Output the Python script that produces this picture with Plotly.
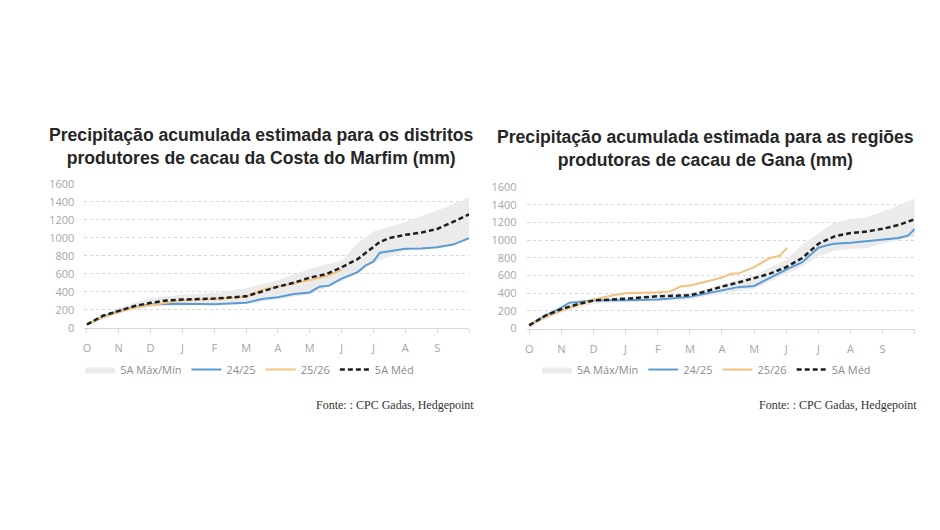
import plotly.graph_objects as go

months = ["O", "N", "D", "J", "F", "M", "A", "M", "J", "J", "A", "S", ""]
month_pos = list(range(13))
y_ticks = [0, 200, 400, 600, 800, 1000, 1200, 1400, 1600]

# ---- Costa do Marfim ----
civ_med_x = [0, 0.5, 1, 1.5, 2, 2.5, 3, 4, 5, 5.5, 6, 6.5, 7, 7.5, 8, 8.5, 9, 9.2, 9.5, 10, 10.5, 11, 11.5, 12]
civ_med = [36, 133, 187, 241, 277, 302, 313, 324, 349, 403, 457, 500, 558, 594, 673, 763, 907, 954, 997, 1033, 1058, 1098, 1177, 1260]

civ_2425_x = [0, 0.5, 1, 1.5, 2, 2.5, 3, 4, 5, 5.5, 6, 6.5, 7, 7.3, 7.6, 8, 8.5, 8.75, 9, 9.2, 9.5, 10, 10.5, 11, 11.5, 12]
civ_2425 = [36, 120, 185, 228, 262, 268, 266, 262, 277, 320, 338, 374, 392, 457, 468, 547, 619, 691, 738, 835, 853, 878, 882, 896, 925, 997]

civ_2526_x = [0, 0.5, 1, 1.5, 2, 2.5, 3, 4, 5, 5.5, 6, 6.5, 7, 7.5, 8]
civ_2526 = [36, 115, 172, 225, 250, 275, 305, 320, 345, 421, 457, 490, 530, 572, 640]

civ_band_x = [0, 1, 2, 3, 4, 5, 6, 7, 8, 8.5, 9, 10, 11, 12]
civ_max = [40, 220, 331, 367, 385, 439, 529, 655, 745, 943, 1069, 1177, 1303, 1447]
civ_min = [30, 165, 235, 250, 255, 265, 320, 370, 520, 600, 720, 860, 880, 970]

# ---- Gana ----
gha_med_x = [0, 0.5, 1, 1.5, 2, 3, 4, 5, 5.5, 6, 6.5, 7, 7.5, 8, 8.5, 9, 9.5, 10, 10.5, 11, 11.5, 12]
gha_med = [37, 146, 220, 275, 318, 337, 366, 377, 421, 476, 520, 567, 622, 696, 798, 959, 1043, 1080, 1098, 1128, 1172, 1237]

gha_2425_x = [0, 0.5, 1, 1.25, 1.5, 2, 3, 4, 5, 5.5, 6, 6.5, 7, 7.5, 8, 8.5, 9, 9.3, 9.5, 10, 10.5, 11, 11.5, 11.8, 12]
gha_2425 = [37, 146, 238, 293, 300, 322, 322, 330, 359, 395, 432, 469, 483, 578, 666, 750, 915, 945, 959, 970, 988, 1014, 1025, 1054, 1128]

gha_2526_x = [0, 0.5, 1, 1.5, 2, 2.5, 3, 4, 4.4, 4.7, 5, 5.5, 6, 6.3, 6.5, 7, 7.5, 7.8, 8.03]
gha_2526 = [30, 130, 205, 270, 330, 370, 400, 410, 421, 476, 487, 531, 578, 622, 622, 696, 798, 824, 915]

gha_band_x = [0, 1, 2, 3, 4, 5, 6, 7, 8, 8.5, 9, 9.5, 10, 10.5, 11, 12]
gha_max = [40, 250, 340, 360, 380, 400, 500, 600, 780, 950, 1074, 1200, 1240, 1260, 1320, 1470]
gha_min = [30, 180, 280, 300, 310, 330, 400, 450, 620, 700, 822, 880, 900, 910, 960, 1041]

BAND = "#ebebeb"
BLUE = "#5b9bd5"
ORANGE = "#f2c27e"
BLACK = "#1e1e1e"

fig = go.Figure()


def add_panel(xa, ya, leg, bx, bmax, bmin, x24, y24, x25, y25, xm, ym):
    fig.add_trace(go.Scatter(x=bx, y=bmin, mode="lines", line=dict(width=0, color=BAND),
                             showlegend=False, hoverinfo="skip", xaxis=xa, yaxis=ya, legend=leg))
    fig.add_trace(go.Scatter(x=bx, y=bmax, mode="lines", line=dict(width=0, color=BAND),
                             fill="tonexty", fillcolor=BAND, name="5A Máx/Mín",
                             xaxis=xa, yaxis=ya, legend=leg))
    fig.add_trace(go.Scatter(x=x24, y=y24, mode="lines", line=dict(width=2, color=BLUE),
                             name="24/25", xaxis=xa, yaxis=ya, legend=leg))
    fig.add_trace(go.Scatter(x=x25, y=y25, mode="lines", line=dict(width=2, color=ORANGE),
                             name="25/26", xaxis=xa, yaxis=ya, legend=leg))
    fig.add_trace(go.Scatter(x=xm, y=ym, mode="lines",
                             line=dict(width=2.5, color=BLACK, dash="5px,3px"),
                             name="5A Méd", xaxis=xa, yaxis=ya, legend=leg))


add_panel("x", "y", "legend", civ_band_x, civ_max, civ_min, civ_2425_x, civ_2425,
          civ_2526_x, civ_2526, civ_med_x, civ_med)
add_panel("x2", "y2", "legend2", gha_band_x, gha_max, gha_min, gha_2425_x, gha_2425,
          gha_2526_x, gha_2526, gha_med_x, gha_med)

tickfont = dict(family="Open Sans, Lato, sans-serif", size=11, color="#a6a6a6")

xcommon = dict(range=[-0.08, 12], tickmode="array", tickvals=month_pos, ticktext=months,
               showgrid=False, zeroline=False, showline=True, linecolor="#d9d9d9", linewidth=1,
               ticks="outside", ticklen=4, tickcolor="#d9d9d9", tickfont=tickfont,
               ticklabelstandoff=6, fixedrange=True)
ycommon = dict(range=[0, 1600], tickmode="array", tickvals=y_ticks, showgrid=True,
               gridcolor="#d6d6d6", griddash="dot", gridwidth=1, zeroline=False,
               showline=False, tickfont=tickfont, ticklabelstandoff=9, fixedrange=True)

legfont = dict(family="Open Sans, Lato, sans-serif", size=11, color="#8c8c8c")

fig.update_layout(
    width=940, height=530,
    margin=dict(l=0, r=0, t=0, b=0),
    paper_bgcolor="white", plot_bgcolor="rgba(0,0,0,0)",
    xaxis=dict(domain=[0.0878, 0.4979], anchor="y", **xcommon),
    yaxis=dict(domain=[0.3792, 0.6585], anchor="x", **ycommon),
    xaxis2=dict(domain=[0.5593, 0.9731], anchor="y2", **xcommon),
    yaxis2=dict(domain=[0.3774, 0.6523], anchor="x2", **ycommon),
    legend=dict(orientation="h", x=0.264, xanchor="center", y=0.298, yanchor="middle",
                font=legfont, traceorder="normal",
                bgcolor="rgba(0,0,0,0)", itemwidth=30, tracegroupgap=0),
    legend2=dict(orientation="h", x=0.751, xanchor="center", y=0.298, yanchor="middle",
                 font=legfont, traceorder="normal",
                 bgcolor="rgba(0,0,0,0)", itemwidth=30, tracegroupgap=0),
    showlegend=True,
)

title_font = dict(family="Liberation Sans, Arial, sans-serif", size=17.6, color="#262626")
fig.add_annotation(text="<b>Precipitação acumulada estimada para os distritos<br>produtores de cacau da Costa do Marfim (mm)</b>",
                   x=0.277, y=1 - 143 / 530, xref="paper", yref="paper", xanchor="center",
                   yanchor="middle", showarrow=False, font=title_font, align="center")
fig.add_annotation(text="<b>Precipitação acumulada estimada para as regiões<br>produtoras de cacau de Gana (mm)</b>",
                   x=0.750, y=1 - 145 / 530, xref="paper", yref="paper", xanchor="center",
                   yanchor="middle", showarrow=False, font=title_font, align="center")

src_font = dict(family="Liberation Serif, Times New Roman, serif", size=12, color="#333333")
fig.add_annotation(text="Fonte: : CPC Gadas, Hedgepoint", x=475 / 940, y=1 - 409 / 530,
                   xref="paper", yref="paper", xanchor="right", yanchor="middle",
                   showarrow=False, font=src_font)
fig.add_annotation(text="Fonte: : CPC Gadas, Hedgepoint", x=919 / 940, y=1 - 409 / 530,
                   xref="paper", yref="paper", xanchor="right", yanchor="middle",
                   showarrow=False, font=src_font)

fig.write_html("out.html")
